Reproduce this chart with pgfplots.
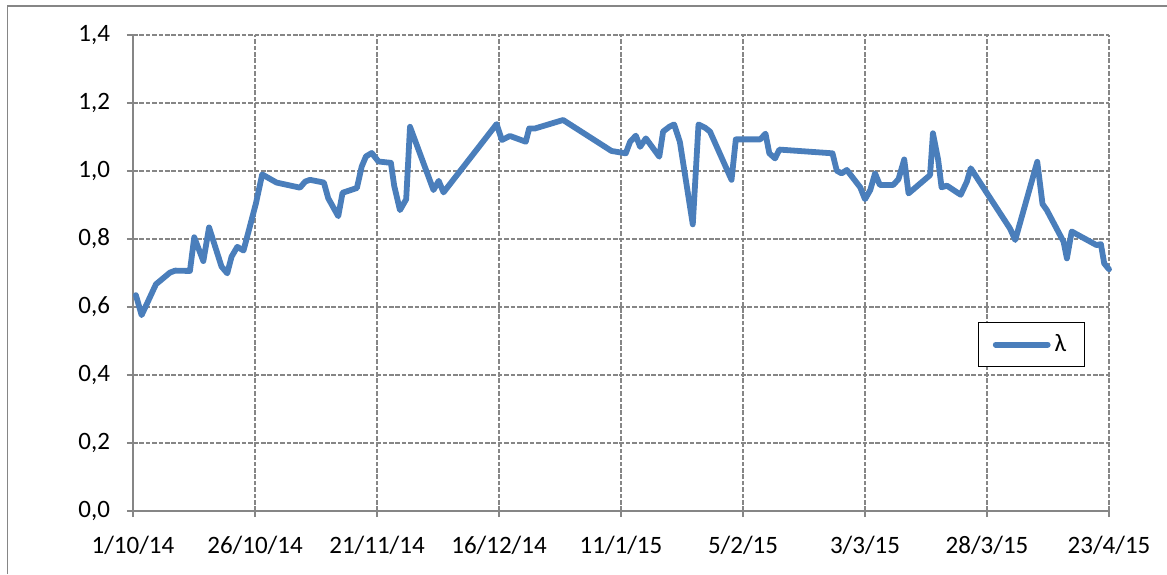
\documentclass[border=0pt]{standalone}
\usepackage{fontspec}
\setmainfont{Carlito}
\usepackage{pgfplots}
\pgfplotsset{compat=1.18}

\definecolor{lineblue}{RGB}{74,126,187}
\definecolor{gridgray}{RGB}{134,134,134}
\definecolor{framegray}{RGB}{134,134,134}

\pgfplotstableread{
day    lambda
0.6    0.635
1.8    0.576
4.8    0.667
7.7    0.701
8.8    0.707
11.9   0.706
12.8   0.805
14.7   0.735
15.9   0.834
18.5   0.719
19.7   0.699
20.6   0.748
21.8   0.777
23.1   0.766
25.7   0.905
27.0   0.990
30.0   0.966
34.9   0.951
36.0   0.969
37.0   0.974
39.9   0.966
40.8   0.920
42.9   0.867
43.8   0.936
46.8   0.950
47.8   1.013
48.7   1.043
49.9   1.053
51.3   1.028
53.9   1.024
54.6   0.956
55.8   0.885
57.1   0.917
57.9   1.130
62.8   0.944
63.9   0.971
64.9   0.937
76.0   1.138
77.1   1.091
78.8   1.103
82.1   1.086
82.8   1.125
84.0   1.125
89.9   1.150
100.0  1.059
103.0  1.052
103.9  1.086
105.1  1.104
106.0  1.071
107.2  1.096
110.0  1.042
110.8  1.116
112.1  1.130
113.1  1.137
114.3  1.086
117.0  0.843
118.2  1.137
119.6  1.127
120.6  1.116
125.1  0.974
126.0  1.093
131.1  1.093
132.2  1.110
133.0  1.052
134.2  1.037
135.1  1.063
146.2  1.052
147.1  1.001
148.1  0.993
149.2  1.003
152.0  0.952
153.0  0.917
154.1  0.944
155.1  0.993
156.1  0.959
158.9  0.959
160.0  0.976
161.2  1.034
162.1  0.934
166.6  0.988
167.2  1.111
168.3  1.032
169.0  0.952
170.1  0.957
173.0  0.930
174.3  0.969
175.1  1.008
183.3  0.831
184.4  0.797
189.0  1.027
190.1  0.903
191.0  0.885
194.5  0.792
195.2  0.743
196.2  0.822
201.4  0.782
202.3  0.785
203.0  0.728
204.0  0.711
}\lambdadata

\begin{document}
\begin{tikzpicture}
\useasboundingbox (-66.5pt,-31.5pt) rectangle (517pt,255.5pt);
% chart area border (only top and left edges are inside the picture)
\draw[framegray, line width=0.6pt] (-62.75pt,-31.5pt) -- (-62.75pt,252.5pt) -- (517pt,252.5pt);
\begin{axis}[
    at={(0,0)}, anchor=south west,
    scale only axis,
    width=488pt, height=238pt,
    xmin=0, xmax=204,
    ymin=0, ymax=1.4,
    xtick={0,25.5,51,76.5,102,127.5,153,178.5,204},
    xticklabels={1/10/14,26/10/14,21/11/14,16/12/14,11/1/15,5/2/15,3/3/15,28/3/15,23/4/15},
    ytick={0,0.2,0.4,0.6,0.8,1.0,1.2,1.4},
    /pgf/number format/use comma,
    /pgf/number format/fixed,
    /pgf/number format/fixed zerofill,
    /pgf/number format/precision=1,
    /pgf/number format/assume math mode=true,
    ticklabel style={font=\fontsize{12.5}{15}\selectfont, text=black},
    yticklabel style={xshift=-5pt},
    xticklabel style={yshift=-6pt},
    axis lines=left,
    axis line style={-, gridgray, line width=0.7pt},
    tick align=outside,
    major tick length=3pt,
    tick style={gridgray, line width=0.7pt},
    grid=major,
    major grid style={gridgray, line width=0.6pt, dash pattern=on 2.3pt off 0.9pt},
    legend style={at={(0.866,0.397)}, anchor=north west, draw=black, line width=0.6pt,
        inner xsep=7pt, inner ysep=4pt, font=\fontsize{12.5}{15}\selectfont},
    legend image code/.code={\draw[#1] (0pt,0pt) -- (26pt,0pt);},
    clip=false,
]
\addplot[lineblue, line width=2.9pt, line join=round, line cap=round] table[x=day, y=lambda] {\lambdadata};
\addlegendentry{λ}
\end{axis}
\end{tikzpicture}
\end{document}
